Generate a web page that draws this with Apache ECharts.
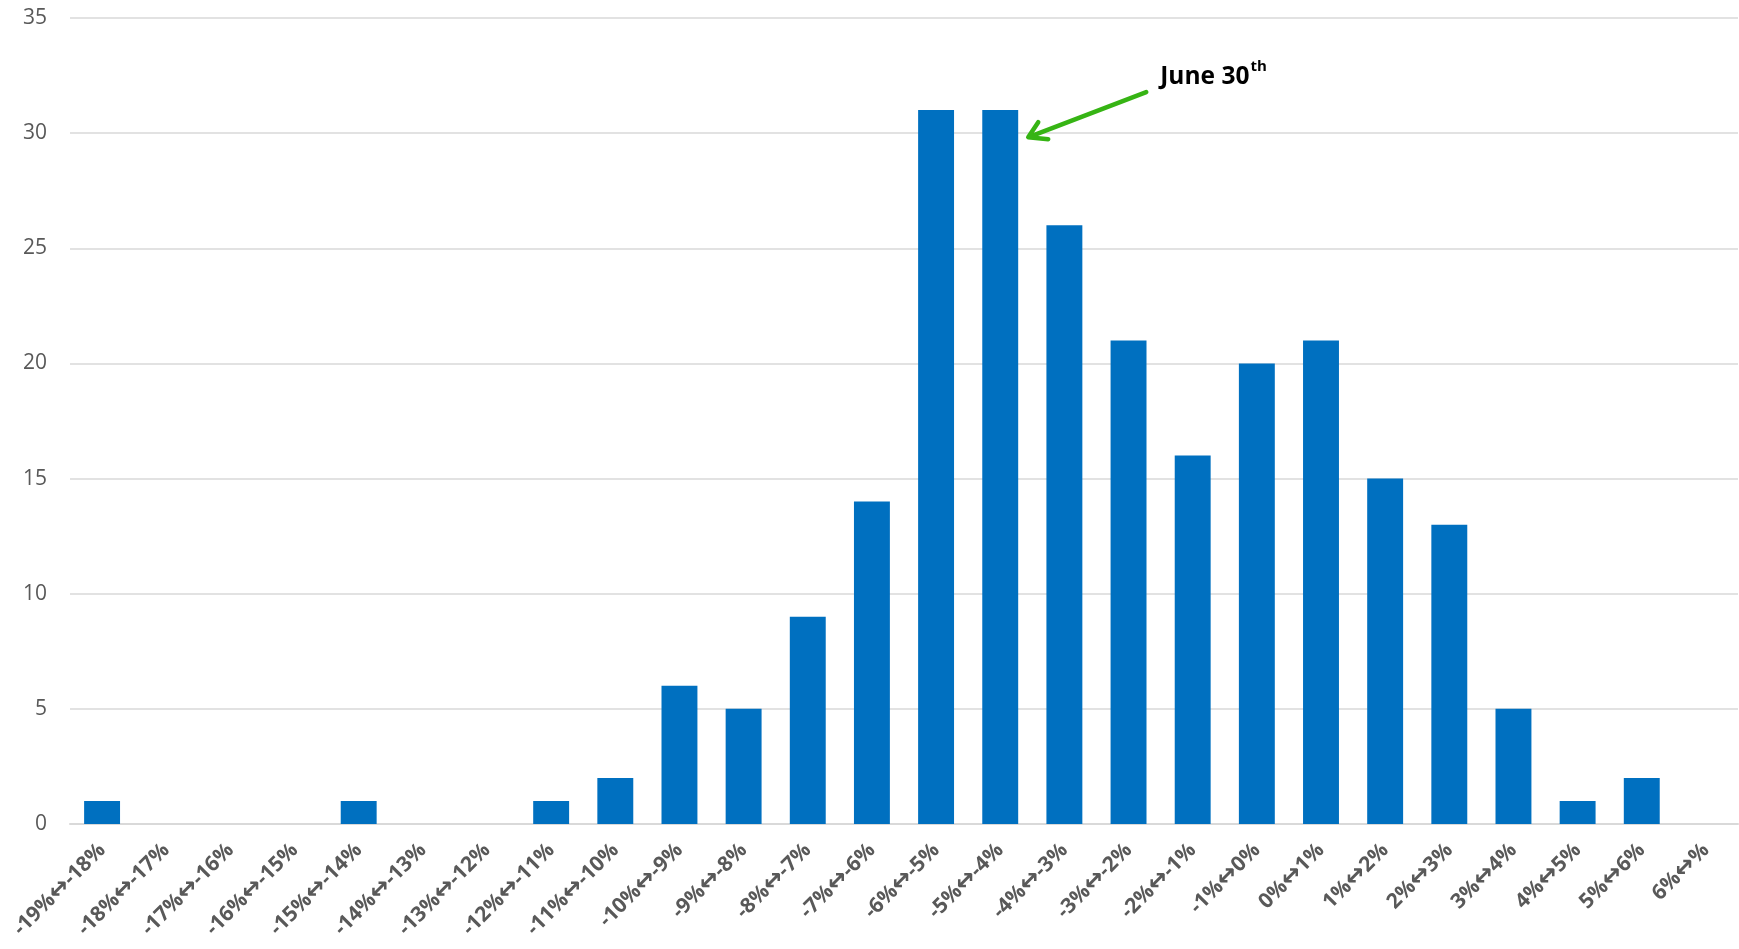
<!DOCTYPE html>
<html>
<head>
<meta charset="utf-8">
<script src="https://cdn.jsdelivr.net/npm/echarts@6/dist/echarts.min.js"></script>
<style>
  html, body { margin: 0; padding: 0; background: #fff; }
  #myChart { width: 1739px; height: 949px; }
</style>
</head>
<body>
<div id="myChart"></div>
<script>
// bins of daily change
const categories = [
  '-19%↔-18%', '-18%↔-17%', '-17%↔-16%', '-16%↔-15%', '-15%↔-14%', '-14%↔-13%',
  '-13%↔-12%', '-12%↔-11%', '-11%↔-10%', '-10%↔-9%', '-9%↔-8%', '-8%↔-7%',
  '-7%↔-6%', '-6%↔-5%', '-5%↔-4%', '-4%↔-3%', '-3%↔-2%', '-2%↔-1%',
  '-1%↔0%', '0%↔1%', '1%↔2%', '2%↔3%', '3%↔4%', '4%↔5%', '5%↔6%', '6%↔%'
];
const counts = [1, 0, 0, 0, 1, 0, 0, 1, 2, 6, 5, 9, 14, 31, 31, 26, 21, 16, 20, 21, 15, 13, 5, 1, 2, 0];
const yTicks = { min: 0, max: 35, step: 5 };
const markedIndex = 14; // June 30th bin
const markedValue = 30;

let myChart = echarts.init(document.getElementById('myChart'));
myChart.setOption({
  animation: false,
  grid: {
    left: 70, right: 1, top: 18, bottom: 125,
    containLabel: false,
    outerBoundsMode: 'none'
  },
  xAxis: {
    type: 'category',
    data: categories,
    axisLine: { lineStyle: { color: '#d9d9d9', width: 2 } },
    axisTick: { show: false },
    axisLabel: {
      interval: 0,
      rotate: 45,
      margin: 23,
      formatter: function (v) {
        let p = v.split('↔');
        return '{t|' + p[0] + '}{arr|↔}{t|' + p[1] + '}';
      },
      rich: {
        t: { color: '#595959', fontSize: 21, fontWeight: 'bold', fontFamily: 'Open Sans' },
        arr: { color: '#595959', fontSize: 25, fontWeight: 'bold', fontFamily: 'DejaVu Sans' }
      }
    }
  },
  yAxis: {
    type: 'value',
    min: yTicks.min,
    max: yTicks.max,
    interval: yTicks.step,
    axisLine: { show: false },
    axisTick: { show: false },
    splitLine: { lineStyle: { color: '#d9d9d9', width: 1.5 } },
    axisLabel: {
      margin: 23,
      color: '#595959',
      fontSize: 21,
      fontFamily: 'Open Sans'
    }
  },
  series: [{
    type: 'bar',
    data: counts,
    barWidth: '56%',
    itemStyle: { color: '#0070c0' }
  }]
});

// annotation arrow pointing at the June 30th bin
const tip = myChart.convertToPixel({ xAxisIndex: 0, yAxisIndex: 0 }, [markedIndex, markedValue]);
const tx = tip[0] + 28, ty = tip[1] + 4;
const sx = tx + 118, sy = ty - 45;
const green = '#36b414';
myChart.setOption({
  graphic: [
    {
      type: 'line',
      shape: { x1: sx, y1: sy, x2: tx + 3, y2: ty - 1 },
      style: { stroke: green, lineWidth: 4.5, lineCap: 'round' }
    },
    {
      type: 'polyline',
      shape: { points: [[tx + 10, ty - 15], [tx, ty], [tx + 20, ty + 2]] },
      style: { stroke: green, lineWidth: 4.5, lineCap: 'round', lineJoin: 'round', fill: null }
    },
    {
      type: 'text',
      x: sx + 14,
      y: sy - 33,
      style: {
        text: '{a|June 30}{b|th}',
        rich: {
          a: { fontSize: 24.5, fontWeight: 'bold', fontFamily: 'Open Sans', fill: '#000', verticalAlign: 'bottom', lineHeight: 30 },
          b: { fontSize: 15, fontWeight: 'bold', fontFamily: 'Open Sans', fill: '#000', verticalAlign: 'top', lineHeight: 30, padding: [0, 0, 11, 1] }
        }
      }
    }
  ]
});
</script>
</body>
</html>
